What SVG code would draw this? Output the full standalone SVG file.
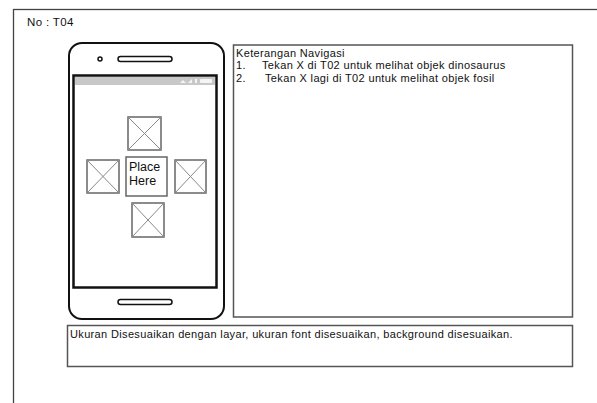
<svg xmlns="http://www.w3.org/2000/svg" width="597" height="403" viewBox="0 0 597 403">
<style>
.t{font-family:"Liberation Sans",Arial,sans-serif;font-size:11px;letter-spacing:0.35px;fill:#111}
.box{fill:#fff;stroke:#555;stroke-width:1.5}
.ph{fill:#fff;stroke:#666;stroke-width:1.5}
.x{stroke:#888;stroke-width:1}
</style>
<rect width="597" height="403" fill="#fff"/>
<g id="frame">
<rect x="13.5" y="9.5" width="600" height="410" fill="none" stroke="#444" stroke-width="1.3"/>
<text class="t" x="27" y="26" style="font-size:11.5px">No : T04</text>
</g>
<g id="phone">
<rect x="69" y="43" width="155" height="276" rx="13" fill="#fff" stroke="#111" stroke-width="2"/>
<rect x="73.5" y="75.5" width="143" height="212" fill="#fff" stroke="#111" stroke-width="2.5"/>
<rect x="75" y="77" width="140" height="8" fill="#c8c8c8"/>
<g fill="#f4f4f4">
<path d="M180 83 l3 -3 l3 3z"/>
<path d="M188 83 l4 -4 v4z"/>
<rect x="195" y="79" width="2" height="4"/>
<rect x="200" y="79" width="12" height="4" rx="1"/>
</g>
<circle cx="100" cy="59" r="2" fill="none" stroke="#111" stroke-width="1.5"/>
<rect x="118" y="56.5" width="54" height="5" rx="2.5" fill="none" stroke="#111" stroke-width="1.5"/>
<rect x="118" y="299.5" width="54" height="5" rx="2.5" fill="none" stroke="#111" stroke-width="1.5"/>
</g>
<g id="img-top">
<rect class="ph" x="128" y="117" width="33" height="33"/>
<path class="x" d="M128 117 L161 150 M161 117 L128 150"/>
</g>
<g id="img-left">
<rect class="ph" x="87" y="160" width="32" height="33"/>
<path class="x" d="M87 160 L119 193 M119 160 L87 193"/>
</g>
<g id="place-here">
<rect class="ph" x="126" y="157" width="41" height="39"/>
<text class="t" x="129" y="171" style="font-size:12.5px;letter-spacing:0">Place</text>
<text class="t" x="129" y="185" style="font-size:12.5px;letter-spacing:0">Here</text>
</g>
<g id="img-right">
<rect class="ph" x="175" y="160" width="31" height="33"/>
<path class="x" d="M175 160 L206 193 M206 160 L175 193"/>
</g>
<g id="img-bottom">
<rect class="ph" x="132" y="203" width="32" height="34"/>
<path class="x" d="M132 203 L164 237 M164 203 L132 237"/>
</g>
<g id="keterangan">
<rect class="box" x="233.5" y="45" width="339" height="272"/>
<text class="t" x="236" y="56.5">Keterangan Navigasi</text>
<text class="t" x="236" y="69">1.</text>
<text class="t" x="262" y="69">Tekan X di T02 untuk melihat objek dinosaurus</text>
<text class="t" x="236" y="81.5">2.</text>
<text class="t" x="265" y="81.5">Tekan X lagi di T02 untuk melihat objek fosil</text>
</g>
<g id="catatan">
<rect class="box" x="67.5" y="325.5" width="505" height="41"/>
<text class="t" x="70" y="338">Ukuran Disesuaikan dengan layar, ukuran font disesuaikan, background disesuaikan.</text>
</g>
<g id="connectors"/>
</svg>
